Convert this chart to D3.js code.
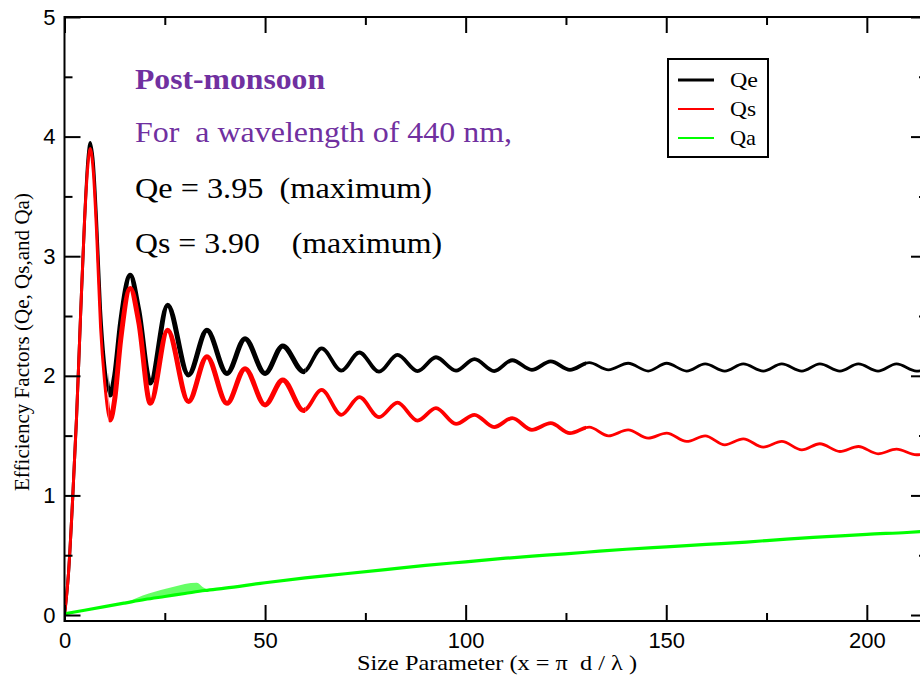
<!DOCTYPE html>
<html>
<head>
<meta charset="utf-8">
<script src="https://cdn.jsdelivr.net/npm/d3@7"></script>
<style>
  body { margin: 0; background: #fff; }
  svg { display: block; }
</style>
</head>
<body>
<script>
// Extinction efficiency Qe versus size parameter
const qeX = [0, 1, 2, 3, 4, 5, 5.8, 6.4, 7.2, 8, 9, 10, 11.4, 12.5, 14, 16.4, 18.5, 21.4,
  25.7, 30.9, 35.5, 40.5, 45.0, 50.0, 54.4, 59.6, 64.1, 69.0, 73.5, 78.4, 83.0, 88.0,
  92.6, 97.6, 102.2, 107.1, 111.6, 116.5, 121.2, 126.0, 130.8, 135.6, 140.5, 145.5,
  150.1, 155.1, 159.7, 164.6, 169.2, 174.2, 178.8, 183.8, 188.3, 193.3, 197.9, 202.8,
  207.4, 212.4, 215];
const qeY = [0, 0.35, 0.95, 1.65, 2.5, 3.3, 3.8, 3.95, 3.78, 3.3, 2.55, 2.1, 1.84, 2.0, 2.45, 2.84, 2.55, 1.94,
  2.59, 2.007, 2.38, 2.02, 2.31, 2.02, 2.25, 2.035, 2.23, 2.043, 2.195, 2.035, 2.175, 2.04,
  2.155, 2.043, 2.14, 2.04, 2.13, 2.05, 2.12, 2.05, 2.11, 2.05, 2.105, 2.04,
  2.105, 2.04, 2.1, 2.04, 2.1, 2.04, 2.1, 2.04, 2.1, 2.04, 2.1, 2.04,
  2.1, 2.04, 2.05];

// Scattering efficiency Qs
const qsX = [0, 1, 2, 3, 4, 5, 5.8, 6.4, 7.2, 8, 9, 10, 11.4, 12.5, 14, 16.4, 18.5, 21.4,
  25.7, 30.9, 35.5, 40.5, 45.0, 50.0, 54.4, 59.6, 64.1, 69.0, 73.5, 78.4, 83.0, 88.0,
  92.6, 97.6, 102.2, 107.1, 111.6, 116.5, 121.2, 126.0, 130.8, 135.6, 140.5, 145.5,
  150.1, 155.1, 159.7, 164.6, 169.2, 174.2, 178.8, 183.8, 188.3, 193.3, 197.9, 202.8,
  207.4, 212.4, 215];
const qsY = [0, 0.35, 0.95, 1.65, 2.5, 3.3, 3.75, 3.9, 3.7, 3.2, 2.4, 1.95, 1.63, 1.8, 2.3, 2.73, 2.45, 1.77,
  2.38, 1.785, 2.16, 1.77, 2.06, 1.757, 1.966, 1.71, 1.882, 1.674, 1.821, 1.654, 1.776, 1.626,
  1.73, 1.598, 1.674, 1.571, 1.646, 1.548, 1.604, 1.521, 1.571, 1.498, 1.548, 1.479,
  1.521, 1.451, 1.498, 1.423, 1.473, 1.404, 1.451, 1.381, 1.432, 1.367, 1.409, 1.348,
  1.387, 1.34, 1.35];

// Absorption efficiency Qa
const qaX = [0, 5, 10, 15, 20, 25, 30, 35, 40, 50, 60, 70, 80, 90, 100, 110, 120, 130, 140,
  150, 160, 170, 180, 190, 200, 210, 215];
const qaY = [0.01, 0.04, 0.07, 0.1, 0.13, 0.155, 0.18, 0.205, 0.225, 0.27, 0.31, 0.345, 0.38, 0.415,
  0.445, 0.475, 0.5, 0.525, 0.55, 0.57, 0.59, 0.61, 0.635, 0.655, 0.675, 0.69, 0.70];
// Upward spread of the noisy Qa trace at small size parameters
const qaSpreadX = [15, 18, 21, 24, 27, 30, 33, 34.5, 36];
const qaSpreadY = [0, 0.025, 0.045, 0.06, 0.07, 0.08, 0.075, 0.03, 0];

const xMajor = [0, 50, 100, 150, 200];
const xMinor = [25, 75, 125, 175];
const yMajor = [0, 1, 2, 3, 4, 5];
const yMinor = [0.5, 1.5, 2.5, 3.5, 4.5];

const legendItems = ["Qe", "Qs", "Qa"];
const colors = { Qe: "#000000", Qs: "#ff0000", Qa: "#00ff00" };

const W = 920, H = 682;
const svg = d3.select("body").append("svg").attr("width", W).attr("height", H);

const x = d3.scaleLinear().domain([0, 215]).range([64.5, 927]);
const y = d3.scaleLinear().domain([-0.05, 5]).range([621, 17]);

const defs = svg.append("defs");
defs.append("clipPath").attr("id", "plot")
  .append("rect").attr("x", x(0)).attr("y", y(5)).attr("width", x(215) - x(0)).attr("height", y(-0.05) - y(5));

// x-range bands used to vary line weight (noisier traces at small sizes)
const bands = [
  { from: 0, to: 11, w: 3 },
  { from: 11, to: 60, w: 5 },
  { from: 60, to: 130, w: 3.8 },
  { from: 130, to: 215, w: 2.8 }
];
bands.forEach((b, i) => {
  defs.append("clipPath").attr("id", "band" + i)
    .append("rect").attr("x", x(b.from)).attr("y", y(5)).attr("width", x(b.to) - x(b.from)).attr("height", y(-0.05) - y(5));
});

const plot = svg.append("g").attr("clip-path", "url(#plot)");

const line = d3.line().x(d => x(d[0])).y(d => y(d[1])).curve(d3.curveMonotoneX);

function drawSeries(xs, ys, color) {
  const pts = xs.map((v, i) => [v, ys[i]]);
  bands.forEach((b, i) => {
    plot.append("g").attr("clip-path", `url(#band${i})`)
      .append("path").datum(pts)
      .attr("d", line)
      .attr("fill", "none")
      .attr("stroke", color)
      .attr("stroke-width", b.w)
      .attr("stroke-linejoin", "round");
  });
}

drawSeries(qeX, qeY, colors.Qe);
drawSeries(qsX, qsY, colors.Qs);

// Qa trace with its noisy spread
const qaInterp = d3.scaleLinear().domain(qaX).range(qaY);
const spreadPts = qaSpreadX.map((v, i) => [v, qaInterp(v), qaInterp(v) + qaSpreadY[i]]);
plot.append("path").datum(spreadPts)
  .attr("d", d3.area().x(d => x(d[0])).y0(d => y(d[1])).y1(d => y(d[2])).curve(d3.curveMonotoneX))
  .attr("fill", colors.Qa).attr("opacity", 0.6);
plot.append("path").datum(qaX.map((v, i) => [v, qaY[i]]))
  .attr("d", line)
  .attr("fill", "none")
  .attr("stroke", colors.Qa)
  .attr("stroke-width", 3.2);

// Axes with inward ticks on all four sides
function styleAxis(g) {
  g.select(".domain").remove();
  g.selectAll(".tick line").attr("stroke", "#000").attr("stroke-width", 2);
  g.selectAll("text").attr("font-family", "'Liberation Sans', Arial, sans-serif")
    .attr("font-size", 22).attr("fill", "#000");
}

svg.append("g").attr("transform", `translate(0,${y(-0.05)})`)
  .call(d3.axisBottom(x).tickValues(xMajor).tickSize(-16).tickPadding(11).tickFormat(d3.format("d")))
  .call(styleAxis);
svg.append("g").attr("transform", `translate(0,${y(-0.05)})`)
  .call(d3.axisBottom(x).tickValues(xMinor).tickSize(-8).tickFormat(""))
  .call(styleAxis);
svg.append("g").attr("transform", `translate(0,${y(5)})`)
  .call(d3.axisTop(x).tickValues(xMajor).tickSize(-16).tickFormat(""))
  .call(styleAxis);
svg.append("g").attr("transform", `translate(0,${y(5)})`)
  .call(d3.axisTop(x).tickValues(xMinor).tickSize(-8).tickFormat(""))
  .call(styleAxis);

svg.append("g").attr("transform", `translate(${x(0)},0)`)
  .call(d3.axisLeft(y).tickValues(yMajor).tickSize(-16).tickPadding(9).tickFormat(d3.format("d")))
  .call(styleAxis);
svg.append("g").attr("transform", `translate(${x(0)},0)`)
  .call(d3.axisLeft(y).tickValues(yMinor).tickSize(-8).tickFormat(""))
  .call(styleAxis);
svg.append("g").attr("transform", `translate(${x(215)},0)`)
  .call(d3.axisRight(y).tickValues(yMajor).tickSize(-16).tickFormat(""))
  .call(styleAxis);
svg.append("g").attr("transform", `translate(${x(215)},0)`)
  .call(d3.axisRight(y).tickValues(yMinor).tickSize(-8).tickFormat(""))
  .call(styleAxis);

// Frame
svg.append("rect")
  .attr("x", x(0)).attr("y", y(5))
  .attr("width", x(215) - x(0)).attr("height", y(-0.05) - y(5))
  .attr("fill", "none").attr("stroke", "#000").attr("stroke-width", 2);

// Axis titles
const serif = "'Liberation Serif', 'Times New Roman', serif";
svg.append("text")
  .attr("x", 497).attr("y", 670)
  .attr("text-anchor", "middle")
  .attr("font-family", serif).attr("font-size", 21).attr("fill", "#000")
  .attr("textLength", 280).attr("lengthAdjust", "spacingAndGlyphs")
  .style("white-space", "pre")
  .text("Size Parameter (x = \u03c0  d / \u03bb )");
svg.append("text")
  .attr("transform", "translate(29,342) rotate(-90)")
  .attr("text-anchor", "middle")
  .attr("font-family", serif).attr("font-size", 20).attr("fill", "#000")
  .attr("textLength", 298).attr("lengthAdjust", "spacingAndGlyphs")
  .text("Efficiency Factors (Qe, Qs,and Qa)");

// Annotations
const notes = [
  { t: "Post-monsoon", y: 89, c: "#7030a0", w: "bold", len: 190 },
  { t: "For  a wavelength of 440 nm,", y: 142, c: "#7030a0", w: "normal", len: 377 },
  { t: "Qe = 3.95  (maximum)", y: 198, c: "#000", w: "normal", len: 297 },
  { t: "Qs = 3.90    (maximum)", y: 253, c: "#000", w: "normal", len: 307 }
];
svg.selectAll("text.note").data(notes).enter().append("text")
  .attr("class", "note")
  .attr("x", 135).attr("y", d => d.y)
  .attr("font-family", serif).attr("font-size", 30)
  .attr("font-weight", d => d.w).attr("fill", d => d.c)
  .attr("textLength", d => d.len).attr("lengthAdjust", "spacingAndGlyphs")
  .style("white-space", "pre")
  .text(d => d.t);

// Legend
const lg = svg.append("g");
lg.append("rect").attr("x", 668).attr("y", 59).attr("width", 100).attr("height", 98)
  .attr("fill", "#fff").attr("stroke", "#000").attr("stroke-width", 2);
legendItems.forEach((k, i) => {
  const ly = 80 + i * 29;
  lg.append("line").attr("x1", 678).attr("x2", 714).attr("y1", ly).attr("y2", ly)
    .attr("stroke", colors[k]).attr("stroke-width", k === "Qe" ? 3 : 2);
  lg.append("text").attr("x", 730).attr("y", ly + 7)
    .attr("font-family", serif).attr("font-size", 22).attr("fill", "#000")
    .attr("textLength", k === "Qe" ? 28 : 26).attr("lengthAdjust", "spacingAndGlyphs")
    .text(k);
});
</script>
</body>
</html>
